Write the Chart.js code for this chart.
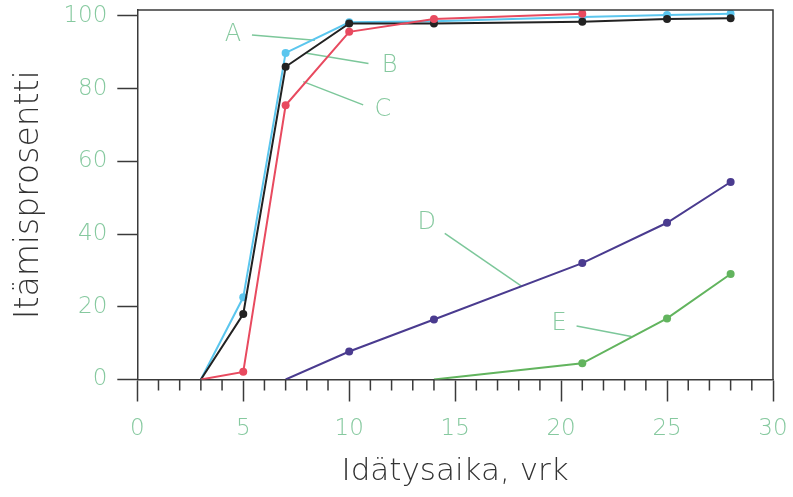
<!DOCTYPE html>
<html>
<head>
<meta charset="utf-8">
<script src="https://cdn.jsdelivr.net/npm/chart.js@4"></script>
<style>
  html, body { margin: 0; padding: 0; background: #fff; }
  #wrap { width: 793px; height: 497px; }
</style>
</head>
<body>
<div id="wrap"><canvas id="chart"></canvas></div>
<script>
// germination data
const daysABC = [3, 5, 7, 10, 14, 21, 25, 28];
const seriesA = [0, 22.6, 89.8, 98.2, 98.5, 99.7, 100.2, 100.6];
const seriesB = [0, 18.0, 86.0, 97.9, 97.9, 98.4, 99.1, 99.3];
const daysC = [3, 5, 7, 10, 14, 21];
const seriesC = [0, 2.1, 75.4, 95.6, 99.1, 100.6];
const daysD = [7, 10, 14, 21, 25, 28];
const seriesD = [0, 7.7, 16.5, 32.0, 43.1, 54.3];
const daysE = [14, 21, 25, 28];
const seriesE = [0, 4.45, 16.8, 29.0];
const yTicks = [0, 20, 40, 60, 80, 100];

// letter labels with leader lines (data coordinates)
const notes = [
  { text: "A", at: [4.51, 94.8], from: [5.41, 94.7], to: [8.38, 93.3] },
  { text: "B", at: [11.91, 86.4], from: [10.91, 86.9], to: [7.99, 89.7] },
  { text: "C", at: [11.59, 74.1], from: [10.66, 75.5], to: [7.83, 81.9] },
  { text: "D", at: [13.66, 43.2], from: [14.51, 40.2], to: [18.13, 25.7] },
  { text: "E", at: [19.9, 15.3], from: [20.73, 14.7], to: [23.32, 11.8] },
];

const FONT = "'DejaVu Sans', sans-serif";
const GREEN_TXT = "#86C99F";
const AXIS = "#3a3a3a";

function toPoints(xs, ys) {
  return xs.map((x, i) => ({ x: x, y: ys[i] }));
}

function line(label, xs, ys, color) {
  return {
    label: label,
    data: toPoints(xs, ys),
    borderColor: color,
    backgroundColor: color,
    borderWidth: 2,
    pointRadius: (ctx) => (ctx.dataIndex === 0 ? 0 : 4),
    pointBorderWidth: 0,
    tension: 0,
  };
}

const extras = {
  id: "extras",
  beforeDatasetsDraw(chart) {
    const { ctx, scales: { x, y } } = chart;
    ctx.save();
    ctx.strokeStyle = "#7CC79A";
    ctx.lineWidth = 1.5;
    notes.forEach((n) => {
      ctx.beginPath();
      ctx.moveTo(x.getPixelForValue(n.from[0]), y.getPixelForValue(n.from[1]));
      ctx.lineTo(x.getPixelForValue(n.to[0]), y.getPixelForValue(n.to[1]));
      ctx.stroke();
    });
    ctx.fillStyle = GREEN_TXT;
    ctx.font = "200 24px " + FONT;
    ctx.textAlign = "center";
    ctx.textBaseline = "middle";
    notes.forEach((n) => {
      ctx.fillText(n.text, x.getPixelForValue(n.at[0]), y.getPixelForValue(n.at[1]));
    });
    ctx.restore();
  },
  afterDraw(chart) {
    const { ctx, chartArea: a, scales: { x } } = chart;
    ctx.save();
    ctx.strokeStyle = AXIS;
    ctx.lineWidth = 1.5;
    ctx.beginPath();
    ctx.moveTo(a.left, a.top);
    ctx.lineTo(a.right, a.top);
    ctx.lineTo(a.right, a.bottom);
    // minor ticks every day
    for (let v = 1; v < 30; v++) {
      if (v % 5 === 0) continue;
      const px = x.getPixelForValue(v);
      ctx.moveTo(px, a.bottom);
      ctx.lineTo(px, a.bottom + 11);
    }
    ctx.stroke();
    ctx.restore();
  },
};

new Chart(document.getElementById("chart"), {
  type: "line",
  data: {
    datasets: [
      line("C", daysC, seriesC, "#E84A5F"),
      line("B", daysABC, seriesB, "#222222"),
      line("A", daysABC, seriesA, "#5BC6EE"),
      line("D", daysD, seriesD, "#4A3B8F"),
      line("E", daysE, seriesE, "#62B45E"),
    ],
  },
  options: {
    responsive: true,
    maintainAspectRatio: false,
    animation: false,
    layout: { autoPadding: false, padding: { left: 0, right: 20, top: 10, bottom: 0 } },
    plugins: { legend: { display: false }, tooltip: { enabled: false } },
    scales: {
      x: {
        type: "linear",
        min: 0,
        max: 30,
        afterFit: (s) => { s.height = 117.5; s.paddingLeft = 0; s.paddingRight = 0; },
        ticks: { stepSize: 5, color: GREEN_TXT, padding: 14, font: { family: FONT, size: 23, weight: 200 } },
        grid: { drawOnChartArea: false, tickLength: 22, tickColor: AXIS, tickWidth: 1.5 },
        border: { color: AXIS, width: 1.5 },
        title: {
          display: true,
          text: "Idätysaika, vrk",
          color: "#333",
          font: { family: FONT, size: 31, weight: 200 },
          padding: { top: 0, bottom: 6 },
        },
      },
      y: {
        min: 0,
        max: 101.6,
        afterFit: (s) => { s.width = 137.3; s.paddingTop = 0; s.paddingBottom = 0; },
        afterBuildTicks: (s) => { s.ticks = yTicks.map((v) => ({ value: v })); },
        ticks: { color: GREEN_TXT, padding: 10, font: { family: FONT, size: 23, weight: 200 } },
        grid: { drawOnChartArea: false, tickLength: 20, tickColor: AXIS, tickWidth: 1.5 },
        border: { color: AXIS, width: 1.5 },
        title: {
          display: true,
          text: "Itämisprosentti",
          color: "#333",
          font: { family: FONT, size: 33, weight: 200 },
          padding: { top: 10, bottom: 0 },
        },
      },
    },
  },
  plugins: [extras],
});
</script>
</body>
</html>
